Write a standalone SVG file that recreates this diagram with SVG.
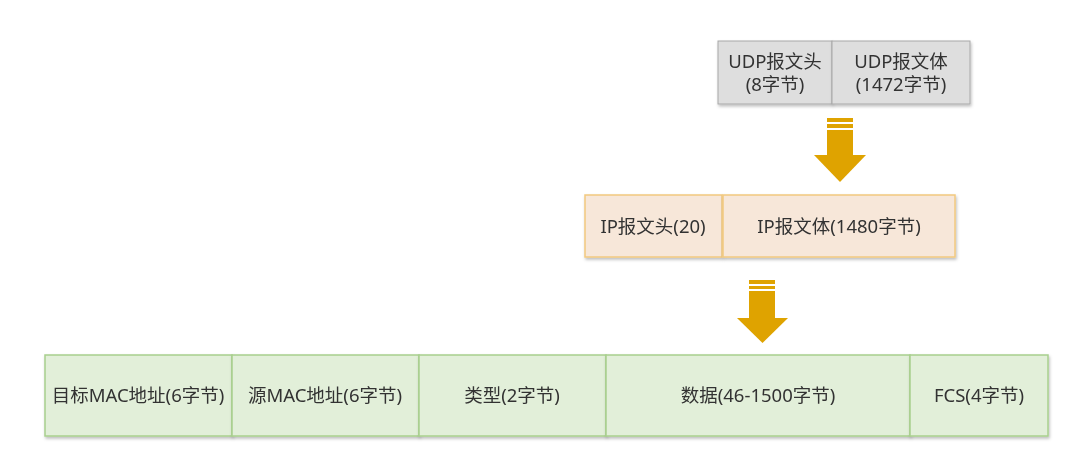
<svg xmlns="http://www.w3.org/2000/svg" width="1080" height="471" viewBox="0 0 1080 471">
<defs>
<filter id="sh" x="-10%" y="-10%" width="120%" height="130%">
<feDropShadow dx="1" dy="2" stdDeviation="1.5" flood-color="#000" flood-opacity="0.25"/>
</filter>
<style>
text{font-family:"Noto Sans","Noto Sans CJK SC",sans-serif;font-size:18.5px;fill:#333;text-anchor:middle;dominant-baseline:central}
.udp{fill:#dedede;stroke:#a8a8a8;stroke-width:1}
.ip{fill:#f7e7d9;stroke:#f2c97f;stroke-width:1.5}
.eth{fill:#e2efd9;stroke:#a8d08d;stroke-width:1.5}
.arr{fill:#dfa300}
</style>
</defs>
<rect width="1080" height="471" fill="#fff"/>
<g id="udp-header" filter="url(#sh)"><rect class="udp" x="718" y="41" width="114" height="63"/><text x="775" y="60">UDP报文头</text><text x="775" y="83">(8字节)</text></g>
<g id="udp-body" filter="url(#sh)"><rect class="udp" x="832" y="41" width="138" height="63"/><text x="901" y="60">UDP报文体</text><text x="901" y="83">(1472字节)</text></g>
<g id="connectors">
<g class="arr"><rect x="827" y="118" width="26" height="4"/><rect x="827" y="124" width="26" height="4"/><rect x="827" y="130" width="26" height="25"/><polygon points="814,155 866,155 840,182"/></g>
<g class="arr"><rect x="749" y="280" width="26" height="4"/><rect x="749" y="286" width="26" height="3"/><rect x="749" y="291" width="26" height="27"/><polygon points="737,318 788,318 762.5,343"/></g>
</g>
<g id="ip-header" filter="url(#sh)"><rect class="ip" x="585" y="195" width="137" height="62"/><text x="653" y="225">IP报文头(20)</text></g>
<g id="ip-body" filter="url(#sh)"><rect class="ip" x="723" y="195" width="232" height="62"/><text x="839" y="225">IP报文体(1480字节)</text></g>
<g id="dst-mac" filter="url(#sh)"><rect class="eth" x="45" y="355" width="187" height="81"/><text x="138" y="394">目标MAC地址(6字节)</text></g>
<g id="src-mac" filter="url(#sh)"><rect class="eth" x="232" y="355" width="187" height="81"/><text x="325" y="394">源MAC地址(6字节)</text></g>
<g id="type" filter="url(#sh)"><rect class="eth" x="419" y="355" width="187" height="81"/><text x="512" y="394">类型(2字节)</text></g>
<g id="data" filter="url(#sh)"><rect class="eth" x="606" y="355" width="304" height="81"/><text x="758" y="394">数据(46-1500字节)</text></g>
<g id="fcs" filter="url(#sh)"><rect class="eth" x="910" y="355" width="138" height="81"/><text x="979" y="394">FCS(4字节)</text></g>
</svg>
